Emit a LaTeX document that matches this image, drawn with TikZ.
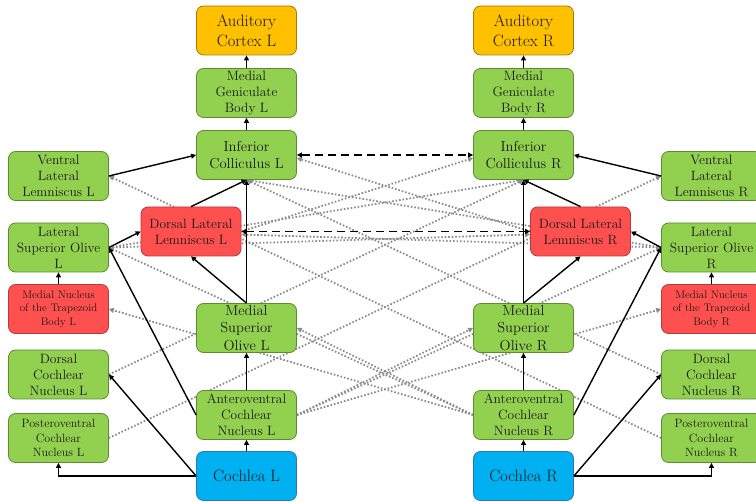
\documentclass[tikz,border=0pt]{standalone}
\usepackage{xcolor}
\usepackage{tikz}
\usetikzlibrary{arrows.meta,backgrounds}
\definecolor{figgreen}{HTML}{92D050}
\definecolor{figgreenline}{HTML}{5B8C32}
\definecolor{figred}{HTML}{FF5050}
\definecolor{figredline}{HTML}{B53A3A}
\definecolor{figorange}{HTML}{FFC000}
\definecolor{figorangeline}{HTML}{A67C00}
\definecolor{figblue}{HTML}{00B0F0}
\definecolor{figblueline}{HTML}{2E75B6}
\definecolor{figink}{HTML}{1A1A1A}
\definecolor{figgray}{HTML}{8C8C8C}

\begin{document}
\begin{tikzpicture}[x=1pt, y=-1pt,
  box/.style={draw=figgreenline, fill=figgreen, line width=0.8pt, rounded corners=7pt,
              minimum width=100pt, minimum height=49pt, align=center, inner sep=1pt,
              text=figink, font=\fontsize{13.5}{16}\selectfont},
  relay/.style={box, draw=figredline, fill=figred},
  cortex/.style={box, draw=figorangeline, fill=figorange, font=\fontsize{16.5}{20}\selectfont},
  ear/.style={box, draw=figblueline, fill=figblue, font=\fontsize{16.5}{20}\selectfont},
  big/.style={font=\fontsize{14.5}{17.5}\selectfont},
  tiny/.style={font=\fontsize{11}{13.5}\selectfont},
  small/.style={font=\fontsize{12}{14.5}\selectfont},
  ipsi/.style={-{Triangle[length=5pt,width=5pt]}, line width=1.4pt},
  commis/.style={{Triangle[length=5pt,width=5pt]}-{Triangle[length=5pt,width=5pt]},
                 line width=1.6pt, dash pattern=on 8pt off 5pt},
  contra/.style={-{Triangle[length=5pt,width=5pt]}, draw=figgray, line width=1.8pt,
                 dash pattern=on 1.6pt off 1.9pt}]
\useasboundingbox (0,0) rectangle (756,502);
% left side
\node[cortex]      (acL)   at (246.5,30.5) {Auditory\\Cortex L};
\node[box]         (mgbL)  at (246.5,93)   {Medial\\Geniculate\\Body L};
\node[box,big]     (icL)   at (246.5,155)  {Inferior\\Colliculus L};
\node[box]         (vllL)  at (58.5,176)   {Ventral\\Lateral\\Lemniscus L};
\node[relay]       (dllL)  at (191,231.5)  {Dorsal Lateral\\Lemniscus L};
\node[box]         (lsoL)  at (58.5,247.5) {Lateral\\Superior Olive\\L};
\node[relay,tiny]  (mntbL) at (58.5,309)   {Medial Nucleus\\of the Trapezoid\\Body L};
\node[box,big]     (msoL)  at (246.5,328)  {Medial\\Superior\\Olive L};
\node[box]         (dcnL)  at (58.5,374.5) {Dorsal\\Cochlear\\Nucleus L};
\node[box]         (avcnL) at (246.5,415)  {Anteroventral\\Cochlear\\Nucleus L};
\node[box,small]   (pvcnL) at (58.5,438)   {Posteroventral\\Cochlear\\Nucleus L};
\node[ear]         (cochL) at (246.5,476)  {Cochlea L};
% right side
\node[cortex]      (acR)   at (523.5,30.5) {Auditory\\Cortex R};
\node[box]         (mgbR)  at (523.5,93)   {Medial\\Geniculate\\Body R};
\node[box,big]     (icR)   at (523.5,155)  {Inferior\\Colliculus R};
\node[box]         (vllR)  at (711.5,176)  {Ventral\\Lateral\\Lemniscus R};
\node[relay]       (dllR)  at (580.5,231.5){Dorsal Lateral\\Lemniscus R};
\node[box]         (lsoR)  at (711.5,247.5){Lateral\\Superior Olive\\R};
\node[relay,tiny]  (mntbR) at (711.5,309)  {Medial Nucleus\\of the Trapezoid\\Body R};
\node[box,big]     (msoR)  at (523.5,328)  {Medial\\Superior\\Olive R};
\node[box]         (dcnR)  at (711.5,374.5){Dorsal\\Cochlear\\Nucleus R};
\node[box]         (avcnR) at (523.5,415)  {Anteroventral\\Cochlear\\Nucleus R};
\node[box,small]   (pvcnR) at (711.5,438)  {Posteroventral\\Cochlear\\Nucleus R};
\node[ear]         (cochR) at (523.5,476)  {Cochlea R};

% crossing (contralateral) paths, behind the boxes
\begin{scope}[on background layer]
\draw[contra] (avcnL.east) -- (msoR.west);
\draw[contra] (avcnL.east) -- (lsoR.west);
\draw[contra] (avcnL.east) -- (mntbR.west);
\draw[contra] (pvcnL.east) -- (vllR.west);
\draw[contra] (dcnL.east) -- (icR.south);
\draw[contra] (lsoL.east) -- (icR.south);
\draw[contra] (lsoL.east) -- ([yshift=-3pt]dllR.west);
\draw[contra] (dllL.east) -- ([yshift=-3pt]icR.west);
\draw[contra] (avcnR.west) -- (msoL.east);
\draw[contra] (avcnR.west) -- (lsoL.east);
\draw[contra] (avcnR.west) -- (mntbL.east);
\draw[contra] (pvcnR.west) -- (vllL.east);
\draw[contra] (dcnR.west) -- (icL.south);
\draw[contra] (lsoR.west) -- (icL.south);
\draw[contra] (lsoR.west) -- ([yshift=-3pt]dllL.east);
\draw[contra] (dllR.west) -- ([yshift=-3pt]icL.east);
\end{scope}

% ipsilateral paths
\foreach \s in {L,R} {
  \draw[ipsi] (coch\s.north) -- (avcn\s.south);
  \draw[ipsi] (avcn\s.north) -- (mso\s.south);
  \draw[ipsi] (mso\s.north) -- (ic\s.south);
  \draw[ipsi] (mso\s.north) -- (dll\s.south);
  \draw[ipsi] (dll\s.north) -- (ic\s.south);
  \draw[ipsi] (mntb\s.north) -- (lso\s.south);
  \draw[ipsi] (ic\s.north) -- (mgb\s.south);
  \draw[ipsi] (mgb\s.north) -- (ac\s.south);
}
\draw[ipsi] (vllL.east) -- (icL.west);
\draw[ipsi] (lsoL.east) -- (dllL.west);
\draw[ipsi] (avcnL.west) -- (lsoL.east);
\draw[ipsi] (cochL.west) -- (dcnL.east);
\draw[ipsi] (cochL.west) -| (pvcnL.south);
\draw[ipsi] (vllR.west) -- (icR.east);
\draw[ipsi] (lsoR.west) -- (dllR.east);
\draw[ipsi] (avcnR.east) -- (lsoR.west);
\draw[ipsi] (cochR.east) -- (dcnR.west);
\draw[ipsi] (cochR.east) -| (pvcnR.south);

% commissures
\draw[commis] (icL.east) -- (icR.west);
\draw[commis] (dllL.east) -- (dllR.west);
\end{tikzpicture}
\end{document}
